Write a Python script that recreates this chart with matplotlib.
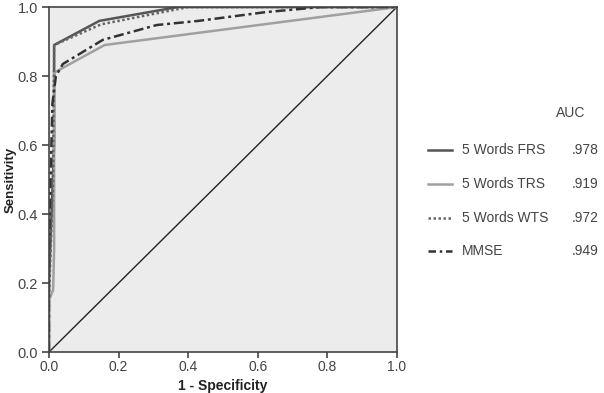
import matplotlib.pyplot as plt

plt.rcParams['font.family'] = ['Liberation Sans', 'DejaVu Sans']

# ROC curves (1 - specificity, sensitivity)
frs_x = [0.0, 0.0, 0.015, 0.015, 0.145, 0.37, 1.0]
frs_y = [0.0, 0.2, 0.6, 0.89, 0.96, 1.0, 1.0]

trs_x = [0.0, 0.0, 0.012, 0.015, 0.015, 0.16, 1.0]
trs_y = [0.0, 0.15, 0.18, 0.3, 0.81, 0.89, 1.0]

wts_x = [0.0, 0.0, 0.012, 0.015, 0.15, 0.35, 0.4, 1.0]
wts_y = [0.0, 0.15, 0.5, 0.89, 0.95, 0.99, 1.0, 1.0]

mmse_x = [0.0, 0.0, 0.01, 0.02, 0.04, 0.155, 0.31, 0.43, 0.62, 0.78, 1.0]
mmse_y = [0.0, 0.3, 0.72, 0.80, 0.835, 0.905, 0.948, 0.96, 0.985, 1.0, 1.0]

names = ["5 Words FRS", "5 Words TRS", "5 Words WTS", "MMSE"]
auc = [".978", ".919", ".972", ".949"]

fig = plt.figure(figsize=(6.04, 3.93), dpi=100)
ax = fig.add_axes([0.081, 0.104, 0.576, 0.878])
ax.set_facecolor('#ececec')

ax.plot([0, 1], [0, 1], color='#222222', lw=1.0)
l1, = ax.plot(frs_x, frs_y, color='#555555', lw=1.8)
l2, = ax.plot(trs_x, trs_y, color='#a0a0a0', lw=1.8)
l3, = ax.plot(wts_x, wts_y, color='#666666', lw=1.8, ls=(0, (1, 1)))
l4, = ax.plot(mmse_x, mmse_y, color='#333333', lw=1.8, ls=(0, (4, 1.5, 1.2, 1.5)))

ax.set_xlim(0, 1)
ax.set_ylim(0, 1)
ax.set_xticks([0, 0.2, 0.4, 0.6, 0.8, 1.0])
ax.set_yticks([0, 0.2, 0.4, 0.6, 0.8, 1.0])
ax.set_xticklabels(["0.0", "0.2", "0.4", "0.6", "0.8", "1.0"])
ax.set_yticklabels(["0.0", "0.2", "0.4", "0.6", "0.8", "1.0"])
ax.tick_params(direction='out', length=5, width=1.2, colors='#444444',
               labelsize=10.5, labelcolor='#444444', pad=3)
ax.tick_params(axis='x', length=4, labelsize=10, pad=2)
for s in ax.spines.values():
    s.set_color('#444444')
    s.set_linewidth(1.2)

ax.set_xlabel("1 - Specificity", fontsize=10, fontweight='bold',
              color='#222222', va='top')
ax.xaxis.set_label_coords(0.5, -0.077)
ax.set_ylabel("Sensitivity", fontsize=9.5, fontweight='bold', color='#222222')
ax.yaxis.set_label_coords(-0.092, 0.5)

# legend with AUC column
fig.text(556 / 604, 1 - 113 / 393, "AUC", fontsize=10, color='#444444',
         va='center', ha='left')
handles = [l1, l2, l3, l4]
styles = ['-', '-', (0, (1, 1)), (0, (3, 1.5, 1, 1.5))]
ys = [150, 184, 218, 251]
for h, st, n, a, yp in zip(handles, styles, names, auc, ys):
    yf = 1 - yp / 393
    fig.add_artist(plt.Line2D([428 / 604, 452 / 604], [yf, yf],
                              color=h.get_color(), lw=1.8,
                              ls=st, transform=fig.transFigure))
    fig.text(462 / 604, yf, n, fontsize=10, color='#444444', va='center')
    fig.text(572 / 604, yf, a, fontsize=10, color='#444444', va='center')

fig.savefig("out.png", dpi=100)
